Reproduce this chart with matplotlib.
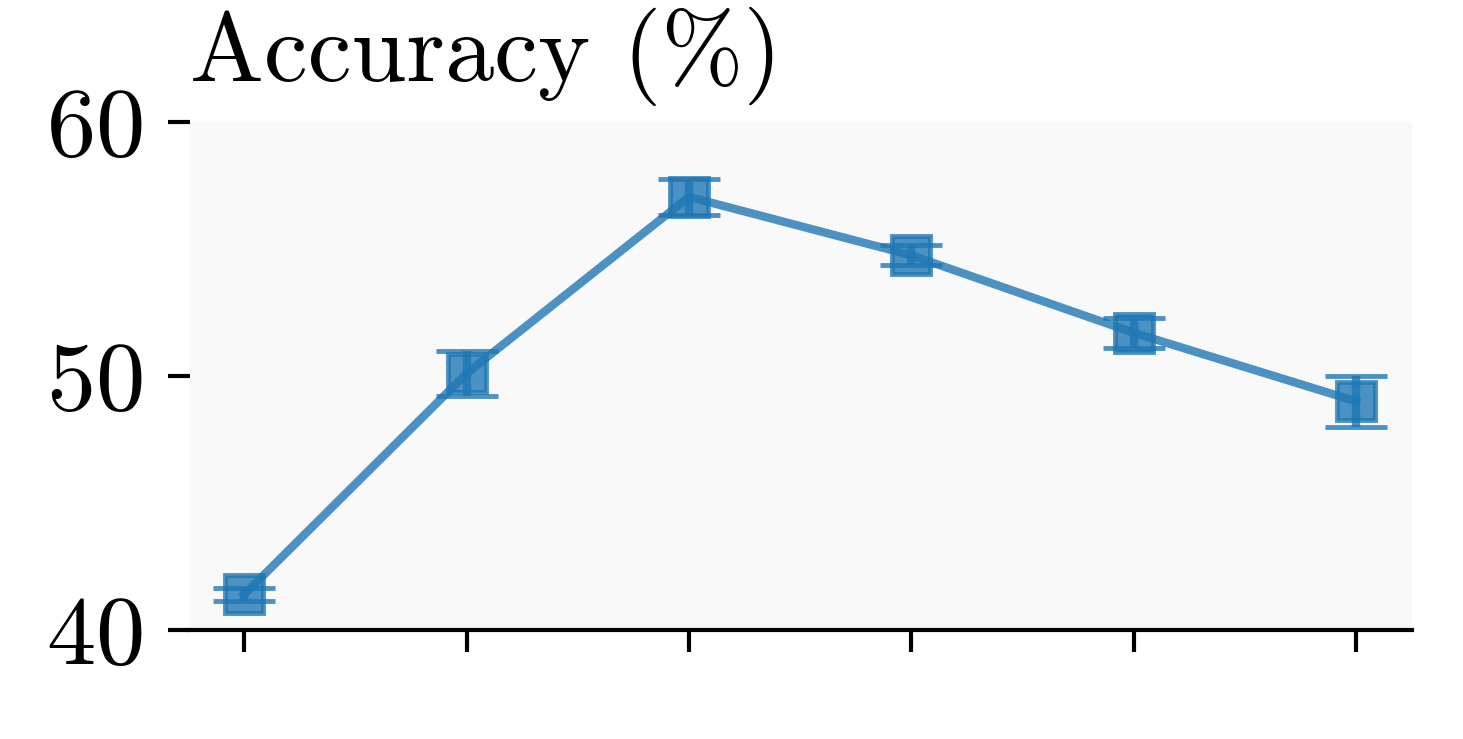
import numpy as np
import matplotlib
matplotlib.use("Agg")
import matplotlib.pyplot as plt

plt.rcParams["font.family"] = "serif"
plt.rcParams["font.serif"] = ["cmr10", "DejaVu Serif"]
plt.rcParams["mathtext.fontset"] = "cm"
plt.rcParams["axes.formatter.use_mathtext"] = True

# valores
x = [0, 1, 2, 3, 4, 5]
acc = [41.4, 50.1, 57.05, 54.75, 51.7, 49.0]
err = [0.25, 0.9, 0.7, 0.4, 0.6, 1.0]
yticks = [40, 50, 60]

fig = plt.figure(figsize=(14.63, 7.39), dpi=100)
ax = fig.add_axes([0.13, 0.1475, 0.835, 0.6875])
ax.set_facecolor("#f9f9f9")

ax.errorbar(x, acc, yerr=err, color="#1f77b4", alpha=0.8, lw=6,
            marker="s", markersize=28, markeredgewidth=3.5,
            elinewidth=6, capsize=22, capthick=4)

ax.set_xlim(-0.243, 5.25)
ax.set_ylim(40, 60)
ax.set_yticks(yticks)
ax.set_xticks(x)
ax.set_xticklabels([])
ax.tick_params(axis="both", length=16, width=3, labelsize=71, pad=18)

for s in ["top", "right", "left"]:
    ax.spines[s].set_visible(False)
ax.spines["bottom"].set_linewidth(3)

fig.text(0.13, 0.89, "Accuracy (%)", fontsize=71, ha="left", va="baseline")

fig.savefig("out.png", dpi=100)
